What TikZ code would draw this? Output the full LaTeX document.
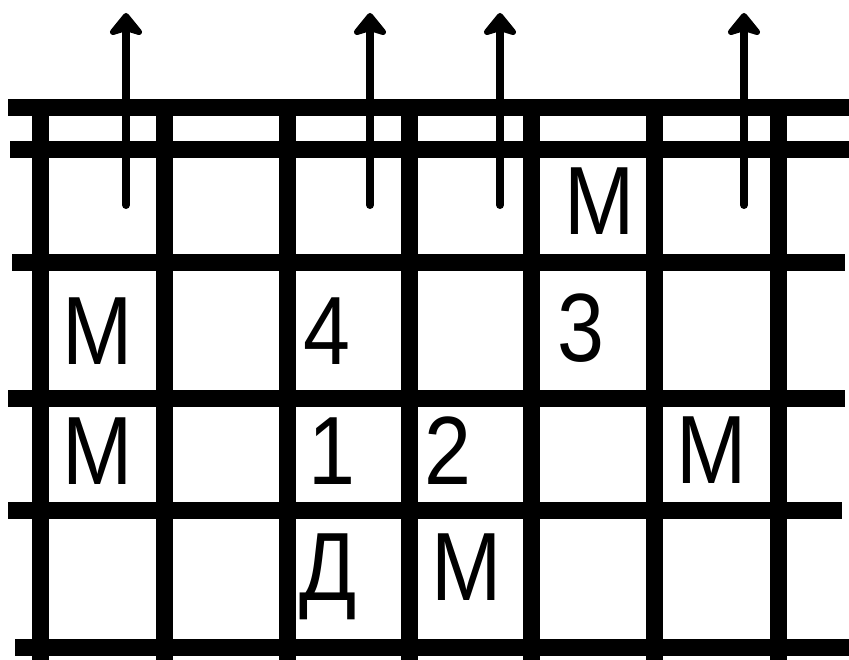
\documentclass[tikz,border=0pt]{standalone}
\usepackage{fontspec}
\setmainfont{Liberation Sans}
\newcommand{\nrw}[1]{\scalebox{0.87}[1]{#1}}
\begin{document}
\begin{tikzpicture}[x=1pt,y=-1pt,
  gridline/.style={line width=17pt,line cap=butt},
  shaft/.style={line width=8pt,line cap=round},
  arrowhead/.style={fill=black,draw=black,line width=6pt,line join=round},
  lbl/.style={inner sep=0pt,anchor=base,font=\fontsize{97}{97}\selectfont}]
\useasboundingbox (0,0) rectangle (849,660);
% horizontal lines
\draw[gridline] (8,108) -- (849,108);
\draw[gridline] (10,150) -- (849,150);
\draw[gridline] (12,263) -- (845,263);
\draw[gridline] (8,398) -- (845,398);
\draw[gridline] (8,510) -- (842,510);
\draw[gridline] (15,647) -- (849,647);
% vertical lines
\foreach \x in {40,164,287,409,531,654,778}
  \draw[gridline] (\x,100) -- (\x,660);
% arrows
\foreach \x/\n in {126/a,370/b,500/c,744/d}{
  \coordinate (\n0) at (\x,205);
  \coordinate (\n1) at (\x,30);
  \draw[shaft] (\n0) -- (\n1);
  \draw[arrowhead] (\x-13,32) -- (\x,16) -- (\x+13,32) -- (\x,28) -- cycle;
}
% labels
\node[lbl] (r2m) at (600,235) {\nrw{M}};
\node[lbl] (r3m) at (98,365) {\nrw{M}};
\node[lbl] (r3a) at (327,365) {\nrw{4}};
\node[lbl] (r3b) at (581,362) {\nrw{3}};
\node[lbl] (r4m) at (98,484) {\nrw{M}};
\node[lbl] (r4a) at (332,484) {\nrw{1}};
\node[lbl] (r4b) at (448,484) {\nrw{2}};
\node[lbl] (r4c) at (712,483) {\nrw{M}};
\node[lbl] (r5a) at (328,600) {\nrw{Д}};
\node[lbl] (r5b) at (467,600) {\nrw{M}};
\end{tikzpicture}
\end{document}
